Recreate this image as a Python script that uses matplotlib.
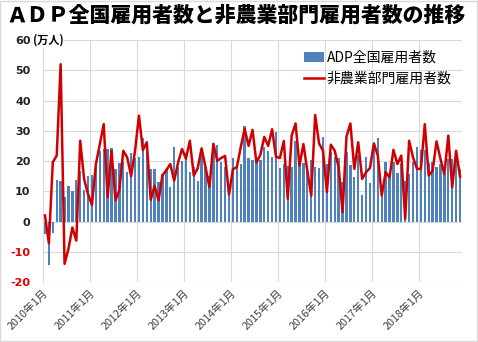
import matplotlib
matplotlib.use("Agg")
import matplotlib.pyplot as plt
import numpy as np
from matplotlib.patches import Rectangle

plt.rcParams['font.family'] = ['Noto Sans CJK JP', 'DejaVu Sans']

# monthly changes, 10k persons, Jan 2010 .. Nov 2018
adp = [
    -4, -14.5, -3.8, 13.8, 13.5, 8.2, 11.9, 10.2, 13.8, 16.8, 10.4, 15.2,
    15.5, 17.9, 23.2, 24, 24, 24.3, 17.4, 19.2, 19.8, 16.5, 22.5, 20.9,
    21.4, 27.6, 22.9, 17.4, 17.4, 13, 15.7, 17.4, 11.5, 24.7, 17.9, 20.1,
    22.5, 16.3, 18, 13.3, 22, 18, 15, 25, 25.4, 19.6, 18, 11,
    20.9, 18.7, 19, 31.6, 21, 20.3, 21, 20.5, 24.5, 23.2, 21.2, 29.5,
    17.6, 19, 18.5, 18, 26.7, 19.6, 19.5, 17.6, 20.4, 17.9, 17.7, 28,
    19, 22.9, 21.4, 21, 13, 23, 18.7, 14.6, 22, 8.6, 21.4, 12.6,
    24.6, 27.6, 12, 19.6, 15.2, 19.8, 16, 19, 13.5, 15.7, 19.8, 24.5,
    23.7, 23.7, 19.2, 19.6, 17.9, 19, 15.7, 20.7, 20.7, 20.7, 17.4,
]
nfp = [
    2.0, -7.2, 19.6, 21.8, 52, -14, -9, -2, -6.3, 26.7, 14.0, 9,
    5.5, 19, 25.5, 32.2, 8, 23.4, 7, 10.4, 23.4, 21.2, 15, 23.4,
    35, 23.6, 26.2, 7.2, 11.8, 7, 15.3, 17, 19, 13.5, 19.5, 24,
    20.8, 26.7, 15.2, 17.6, 24.2, 18, 11.3, 25.7, 20.1, 21, 21.7, 8.9,
    17.3, 18, 24.6, 30.6, 25, 30.3, 19.5, 22, 28, 25, 30.5, 21.4,
    21, 26.6, 7.5, 28.4, 32.4, 18.5, 25.6, 16.8, 8.5, 35.2, 25.8, 23.4,
    9.7, 25.4, 23.4, 17.9, 3.1, 28.1, 32.4, 17.4, 26.2, 14.1, 16.3, 17.7,
    25.8, 21.8, 8.6, 16.3, 14.6, 23.7, 19, 21.8, 0.9, 26.7, 21.2, 17.4,
    17.4, 32.2, 15.2, 16.8, 26.5, 20.7, 15.7, 28.4, 11.3, 23.4, 14.8,
]
year_labels = [f"{y}年1月" for y in range(2010, 2019)]
y_ticks = list(range(-20, 70, 10))

x = np.arange(len(nfp))

fig = plt.figure(figsize=(4.78, 3.42), dpi=100)
fig.patches.append(Rectangle((0.001, 0.002), 0.997, 0.995, transform=fig.transFigure,
                             fill=False, edgecolor="#d9d9d9", linewidth=1))
ax = fig.add_axes([0.090, 0.1754, 0.8765, 0.7076])

bars = ax.bar(x, adp, width=0.6, color="#4f81bd", label="ADP全国雇用者数", zorder=2)
line, = ax.plot(x, nfp, color="#d00000", linewidth=1.8, label="非農業部門雇用者数", zorder=3)

ax.set_xlim(-0.5, len(nfp) - 0.5)
ax.set_ylim(-20, 60)
ax.set_yticks(y_ticks)
ax.set_yticklabels([str(v) for v in y_ticks], fontsize=8, fontweight="bold",
                   family=["DejaVu Sans"])
for lab, v in zip(ax.get_yticklabels(), y_ticks):
    lab.set_color("#e00000" if v < 0 else "#222222")

ax.set_xticks([-0.5 + 12 * i for i in range(len(year_labels))])
ax.set_xticklabels(year_labels, rotation=45, ha="right", rotation_mode="anchor",
                   fontsize=7.8, color="#404040")
ax.tick_params(axis="both", length=0)
ax.tick_params(axis="y", pad=9)
ax.tick_params(axis="x", pad=4)

ax.grid(True, color="#d9d9d9", linewidth=0.8, zorder=0)
ax.set_axisbelow(True)
for side in ["top", "right", "bottom"]:
    ax.spines[side].set_visible(False)
ax.spines["left"].set_color("#d9d9d9")

fig.text(0.069, 1 - 40 / 342, "(万人)", fontsize=8, fontweight="bold", va="center",
         ha="left", bbox=dict(facecolor="white", edgecolor="none", pad=0.5))

ax.legend([bars, line], ["ADP全国雇用者数", "非農業部門雇用者数"],
          loc="upper right", bbox_to_anchor=(0.995, 0.99), frameon=False,
          fontsize=10, handlelength=1.4, handletextpad=0.2, borderaxespad=0.2,
          labelspacing=0.5)

fig.text(0.493, 1 - 15 / 342, "ＡＤＰ全国雇用者数と非農業部門雇用者数の推移",
         fontsize=15, fontweight="black", ha="center", va="center")

fig.savefig("out.png", dpi=100)
